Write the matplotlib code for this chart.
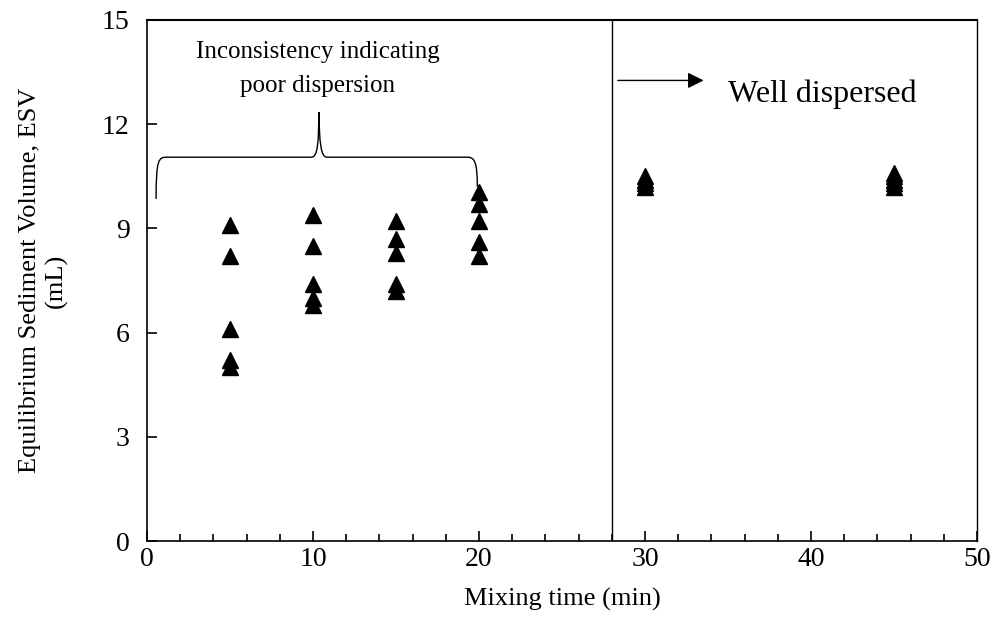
import matplotlib.pyplot as plt
from matplotlib.path import Path
from matplotlib.patches import PathPatch
from matplotlib.ticker import MultipleLocator

plt.rcParams['font.family'] = ['Liberation Serif', 'DejaVu Serif']
plt.rcParams['font.size'] = 20

# ESV readings per mixing time (repeat samples)
mix_times = [5, 10, 15, 20, 30, 45]
esv_5 = [9.1, 8.2, 6.1, 5.2, 5.0]
esv_10 = [9.4, 8.5, 7.4, 7.0, 6.8]
esv_15 = [9.2, 8.7, 8.3, 7.4, 7.2]
esv_20 = [10.05, 9.7, 9.2, 8.6, 8.2]
esv_30 = [10.5, 10.4, 10.3, 10.2]
esv_45 = [10.6, 10.5, 10.4, 10.3, 10.2]
esv_all = [esv_5, esv_10, esv_15, esv_20, esv_30, esv_45]

split_time = 28

fig = plt.figure(figsize=(10.08, 6.43), dpi=100)
ax = fig.add_axes([0.1458, 0.1586, 0.8234, 0.8103])

for t, vals in zip(mix_times, esv_all):
    ax.plot([t] * len(vals), vals, linestyle='none', marker='^',
            color='black', markersize=11, clip_on=False)

# boundary between poorly and well dispersed regions
ax.axvline(split_time, color='black', linewidth=1)

# curly brace over the inconsistent group
verts = [
    (0.55, 9.85), (0.55, 11.0), (0.7, 11.05), (1.2, 11.05),
    (9.9, 11.05),
    (10.3, 11.05), (10.35, 11.5), (10.35, 12.35),
    (10.4, 11.5), (10.45, 11.05), (10.85, 11.05),
    (19.3, 11.05),
    (19.75, 11.05), (19.9, 10.9), (19.9, 10.2),
]
codes = [
    Path.MOVETO, Path.CURVE4, Path.CURVE4, Path.CURVE4,
    Path.LINETO,
    Path.CURVE4, Path.CURVE4, Path.CURVE4,
    Path.CURVE4, Path.CURVE4, Path.CURVE4,
    Path.LINETO,
    Path.CURVE4, Path.CURVE4, Path.CURVE4,
]
ax.add_patch(PathPatch(Path(verts, codes), facecolor='none',
                       edgecolor='black', linewidth=1))

ax.text(10.3, 13.6, 'Inconsistency indicating\npoor dispersion',
        ha='center', va='center', linespacing=1.7, fontsize=18)

ax.annotate('', xy=(33.7, 13.26), xytext=(28.2, 13.26),
            arrowprops=dict(arrowstyle='-|>', color='black', lw=1,
                            mutation_scale=24))
ax.text(35.0, 12.85, 'Well dispersed', ha='left', va='center', fontsize=23)

ax.set_xlim(0, 50)
ax.set_ylim(0, 15)
ax.xaxis.set_major_locator(MultipleLocator(10))
ax.xaxis.set_minor_locator(MultipleLocator(2))
ax.yaxis.set_major_locator(MultipleLocator(3))
ax.tick_params(axis='both', which='major', direction='in', length=7,
               width=1.2)
ax.tick_params(axis='x', which='major', pad=4)
ax.tick_params(axis='y', which='major', pad=12.5)
ax.tick_params(axis='x', which='minor', direction='in', length=5, width=1.2)
for side in ax.spines.values():
    side.set_linewidth(1.2)
ax.spines['top'].set_linewidth(1.5)
ax.spines['right'].set_linewidth(1)

ax.set_xlabel('Mixing time (min)', fontsize=19)
ax.set_ylabel('Equilibrium Sediment Volume, ESV\n(mL)', fontsize=19,
              linespacing=1.25)
ax.xaxis.set_label_coords(0.5, -0.09)
ax.yaxis.set_label_coords(-0.095, 0.5)

fig.savefig('out.png', dpi=100)
